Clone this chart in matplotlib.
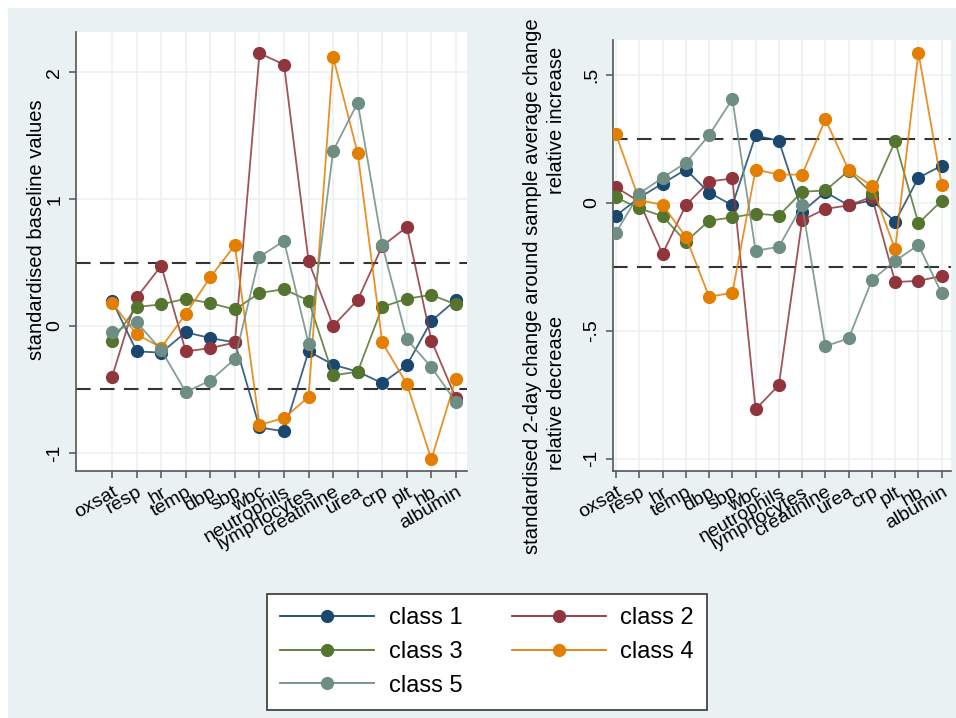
import matplotlib
matplotlib.use('Agg')
import matplotlib.pyplot as plt
from matplotlib.patches import Rectangle
from matplotlib.lines import Line2D

plt.rcParams['font.family'] = ['Liberation Sans', 'DejaVu Sans']

variables = ['oxsat', 'resp', 'hr', 'temp', 'dbp', 'sbp', 'wbc', 'neutrophils',
             'lymphocytes', 'creatinine', 'urea', 'crp', 'plt', 'hb', 'albumin']
class_names = ['class 1', 'class 2', 'class 3', 'class 4', 'class 5']
class_colors = ['#1a476f', '#90353b', '#55752f', '#e37e00', '#6e8e84']

baseline_c1 = [0.20, -0.20, -0.21, -0.05, -0.095, -0.13, -0.80, -0.83, -0.20, -0.305, -0.36, -0.45, -0.31, 0.04, 0.205]
baseline_c2 = [-0.40, 0.225, 0.475, -0.20, -0.175, -0.13, 2.15, 2.06, 0.51, 0.0, 0.205, 0.63, 0.78, -0.115, -0.57]
baseline_c3 = [-0.12, 0.15, 0.17, 0.215, 0.18, 0.13, 0.26, 0.29, 0.20, -0.39, -0.36, 0.15, 0.215, 0.245, 0.17]
baseline_c4 = [0.18, -0.065, -0.17, 0.095, 0.385, 0.636, -0.78, -0.725, -0.56, 2.12, 1.36, -0.13, -0.457, -1.05, -0.415]
baseline_c5 = [-0.05, 0.03, -0.19, -0.52, -0.43, -0.26, 0.545, 0.67, -0.14, 1.38, 1.76, 0.64, -0.105, -0.325, -0.60]

change_c1 = [-0.05, 0.02, 0.075, 0.13, 0.04, -0.01, 0.263, 0.242, -0.035, 0.042, -0.01, 0.01, -0.074, 0.098, 0.145]
change_c2 = [0.06, 0.005, -0.20, -0.01, 0.083, 0.095, -0.807, -0.712, -0.068, -0.024, -0.01, 0.023, -0.31, -0.305, -0.286]
change_c3 = [0.021, -0.022, -0.052, -0.152, -0.07, -0.057, -0.042, -0.05, 0.043, 0.048, 0.125, 0.037, 0.24, -0.08, 0.008]
change_c4 = [0.267, 0.01, -0.008, -0.133, -0.367, -0.352, 0.13, 0.11, 0.11, 0.326, 0.128, 0.065, -0.182, 0.586, 0.069]
change_c5 = [-0.117, 0.036, 0.098, 0.156, 0.264, 0.405, -0.1875, -0.172, -0.01, -0.56, -0.53, -0.302, -0.227, -0.165, -0.354]

baseline = [baseline_c1, baseline_c2, baseline_c3, baseline_c4, baseline_c5]
change = [change_c1, change_c2, change_c3, change_c4, change_c5]

left_yticks = [2, 1, 0, -1]
left_yticklabels = ['2', '1', '0', '-1']
right_yticks = [0.5, 0, -0.5, -1]
right_yticklabels = ['.5', '0', '-.5', '-1']

W, H = 956, 718
BG = '#e9f1f3'
GRID = '#eaf1f3'
fig = plt.figure(figsize=(W / 100, H / 100), dpi=100, facecolor='white')
fig.patches.append(Rectangle((8 / W, 0), 1, 1 - 8 / H, transform=fig.transFigure,
                             facecolor=BG, edgecolor='none', zorder=-10))


def px_axes(x0, x1, ytop, ybot):
    return fig.add_axes([x0 / W, (H - ybot) / H, (x1 - x0) / W, (ybot - ytop) / H])


def style(ax, xlim, ylim, yticks, yticklabels, dash):
    ax.set_facecolor('white')
    xs = list(range(len(variables)))
    ax.set_xlim(*xlim)
    ax.set_ylim(*ylim)
    for s in ['top', 'right']:
        ax.spines[s].set_visible(False)
    for s in ['left', 'bottom']:
        ax.spines[s].set_color('#555555')
        ax.spines[s].set_linewidth(1.2)
    ax.set_xticks(xs)
    ax.set_xticklabels(variables, rotation=30, ha='right', rotation_mode='anchor', fontsize=14)
    ax.set_yticks(yticks)
    ax.set_yticklabels(yticklabels, rotation=90, va='center', fontsize=14)
    ax.tick_params(axis='both', direction='out', length=5, width=1.1, color='#555555', pad=4)
    for x in xs:
        ax.axvline(x, color=GRID, lw=1.1, zorder=0)
    for y in yticks:
        ax.axhline(y, color=GRID, lw=1.1, zorder=0)
    for d in dash:
        ax.axhline(d, color='#333333', lw=1.5, dashes=(7, 4.5), zorder=1)


axL = px_axes(76, 467, 32, 471)
axR = px_axes(613, 951, 40, 471)
style(axL, (-1.47, 14.45), (-1.143, 2.317), left_yticks, left_yticklabels, [0.5, -0.5])
style(axR, (-0.13, 14.4), (-1.048, 0.636), right_yticks, right_yticklabels, [0.25, -0.25])

xs = list(range(len(variables)))
for ax, data in [(axL, baseline), (axR, change)]:
    for vals, col in zip(data, class_colors):
        ax.plot(xs, vals, color=col, lw=1.3, alpha=0.85, zorder=3)
        ax.plot(xs, vals, linestyle='none', marker='o', markersize=8.5,
                markerfacecolor=col, markeredgecolor=col, zorder=3)

fig.text(37 / W, 1 - 230 / H, 'standardised baseline values', rotation=90,
         ha='center', va='center', fontsize=14.5)
fig.text(533 / W, 1 - 286 / H, 'standardised 2-day change around sample average change',
         rotation=90, ha='center', va='center', fontsize=14.6)
fig.text(556 / W, 1 - 120 / H, 'relative increase', rotation=90,
         ha='center', va='center', fontsize=14.5)
fig.text(556 / W, 1 - 393 / H, 'relative decrease', rotation=90,
         ha='center', va='center', fontsize=14.5)

handles = [Line2D([], [], color=c, lw=1.3, marker='o', markersize=8.5,
                  markerfacecolor=c, markeredgecolor=c) for c in class_colors]
order = [0, 2, 4, 1, 3]
leg = fig.legend([handles[i] for i in order], [class_names[i] for i in order],
                 ncol=2, loc='upper left', mode='expand',
                 bbox_to_anchor=(267 / W, (H - 712) / H, 440 / W, 118 / H),
                 fontsize=17, frameon=True, fancybox=False, handlelength=4.0,
                 handletextpad=0.6, labelspacing=0.5, borderpad=0.55,
                 borderaxespad=0, columnspacing=1.0)
leg.get_frame().set_edgecolor('#444444')
leg.get_frame().set_linewidth(1.3)
leg.get_frame().set_facecolor('white')
leg.get_frame().set_alpha(1)

fig.savefig('out.png', dpi=100, facecolor=fig.get_facecolor())
